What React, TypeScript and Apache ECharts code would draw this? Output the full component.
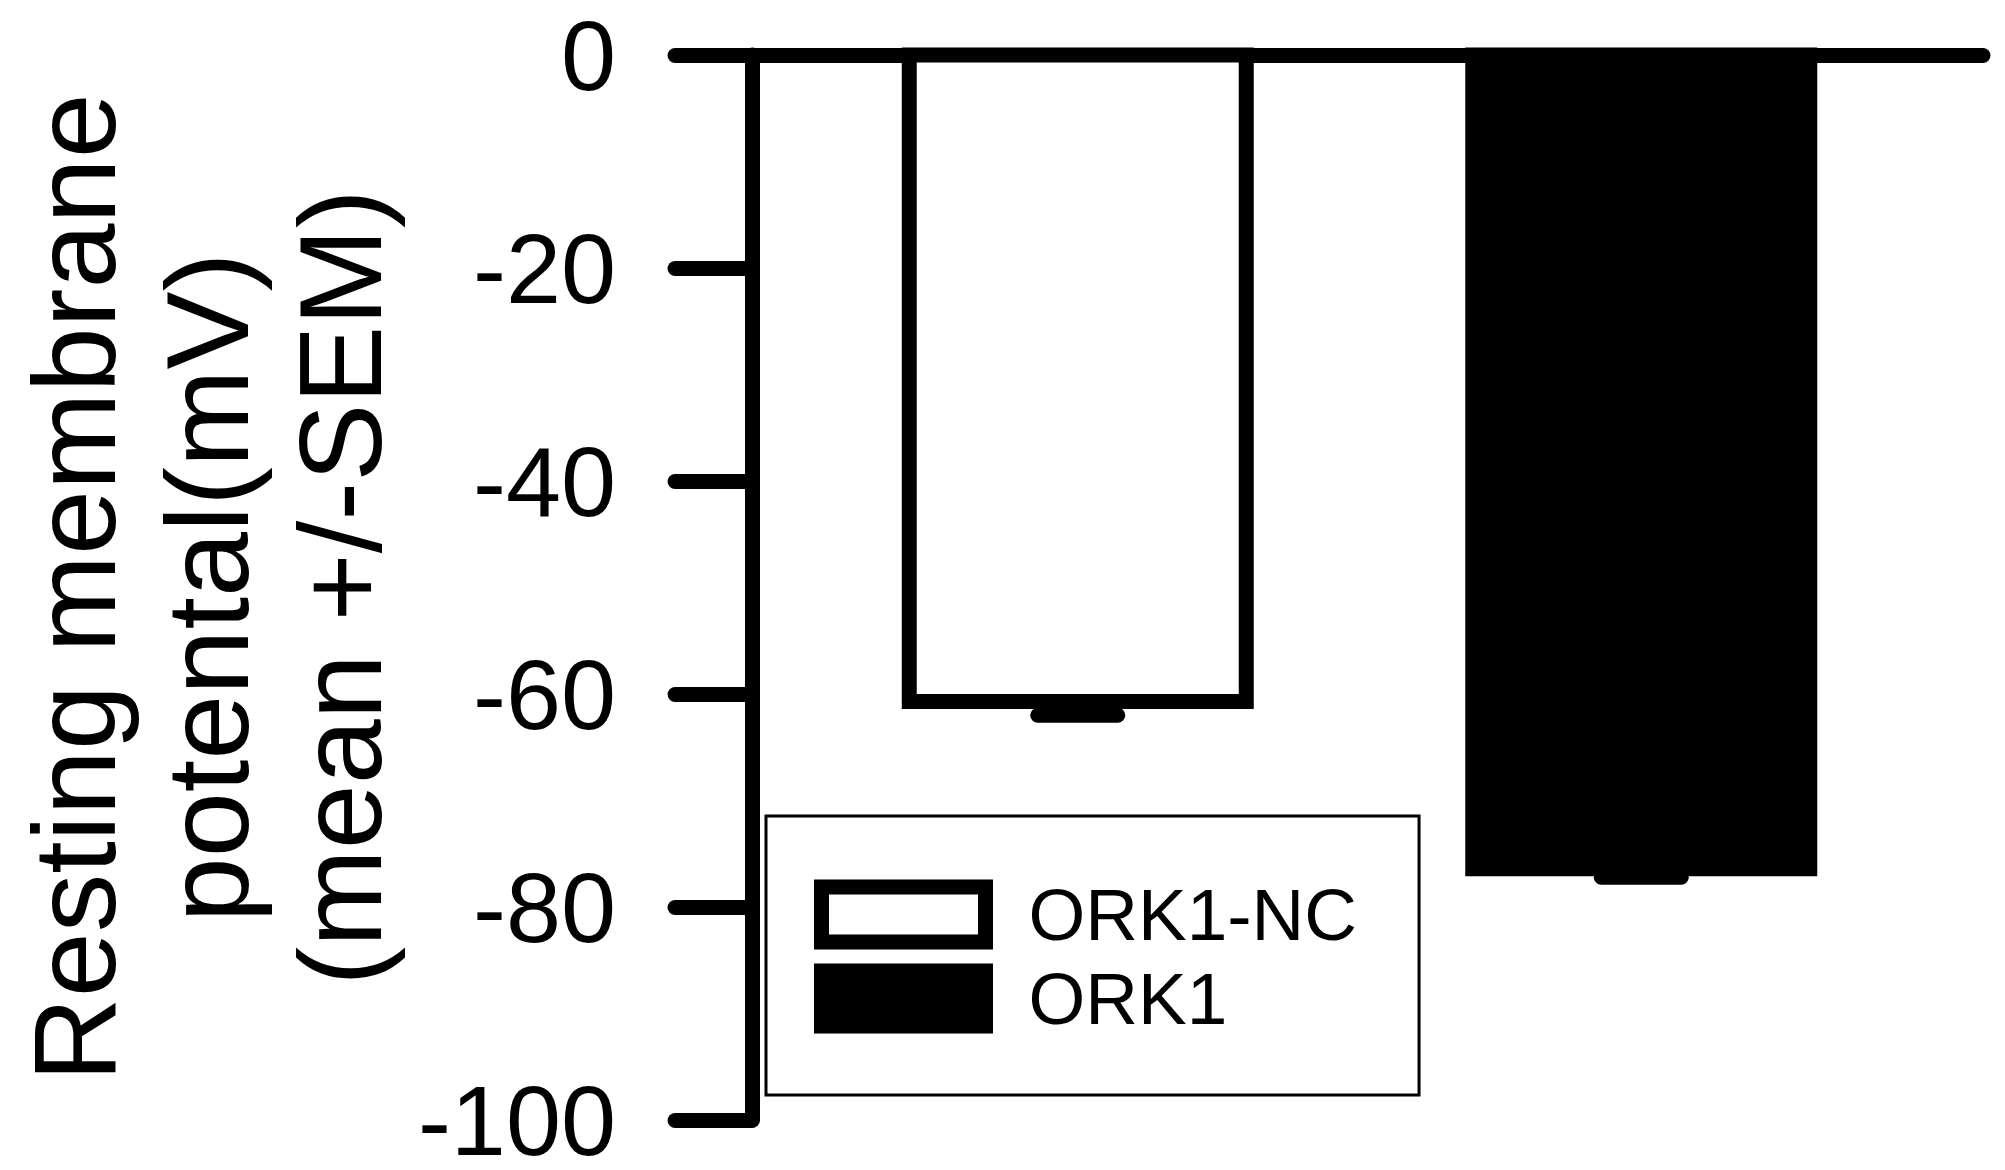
import React, { useEffect, useRef } from "react";
import * as echarts from "echarts";

const categories = ["ORK1-NC", "ORK1"];
const seriesNames = ["ORK1-NC", "ORK1"];
const meanValues = [-60.7, -76.4];
const semValues = [1.3, 0.8];
const barFills = ["#ffffff", "#000000"];
const yMin = -100;
const yMax = 0;
const yInterval = 20;
const axisTitle = "Resting membrane\npotental(mV)\n(mean +/-SEM)";

const FONT = "'Liberation Sans', Arial, sans-serif";
const BAR_INNER_WIDTH = 337;
const STROKE = 15;
const CAP_HALF = 40;

export default function App() {
  const ref = useRef<HTMLDivElement>(null);
  useEffect(() => {
    if (!ref.current) return;
    const chart = echarts.init(ref.current, null, { renderer: "svg" });

    const renderBar = (params: any, api: any) => {
      const i = api.value(0);
      const m = api.value(1);
      const s = api.value(2);
      const base = api.coord([i, 0]);
      const meanPt = api.coord([i, m]);
      const low = api.coord([i, m - s]);
      const fill = api.visual("color");
      return {
        type: "group",
        children: [
          {
            type: "line",
            z2: 1,
            shape: { x1: meanPt[0], y1: meanPt[1], x2: low[0], y2: low[1] },
            style: { stroke: "#000", lineWidth: STROKE },
          },
          {
            type: "line",
            z2: 1,
            shape: { x1: low[0] - CAP_HALF, y1: low[1], x2: low[0] + CAP_HALF, y2: low[1] },
            style: { stroke: "#000", lineWidth: STROKE, lineCap: "round" },
          },
          {
            type: "rect",
            z2: 2,
            shape: {
              x: base[0] - BAR_INNER_WIDTH / 2,
              y: base[1],
              width: BAR_INNER_WIDTH,
              height: meanPt[1] - base[1],
            },
            style: { fill, stroke: "#000", lineWidth: STROKE },
          },
        ],
      };
    };

    const option: any = {
      animation: false,
      backgroundColor: "#fff",
      grid: [
        { left: 796, top: 55, width: 1127, height: 1065 },
        { left: 741, top: 55, width: 1242, height: 1065 },
      ],
      xAxis: [
        { type: "category", gridIndex: 0, data: categories, show: false },
        {
          type: "value",
          gridIndex: 1,
          min: 0,
          max: 1,
          axisLine: { show: true, onZero: true, lineStyle: { color: "#000", width: STROKE, cap: "round" } },
          axisTick: { show: false },
          axisLabel: { show: false },
          splitLine: { show: false },
        },
      ],
      yAxis: [
        { type: "value", gridIndex: 0, min: yMin, max: yMax, show: false },
        {
          type: "value",
          gridIndex: 1,
          min: yMin,
          max: yMax,
          interval: yInterval,
          axisLine: { show: true, onZero: false, lineStyle: { color: "#000", width: STROKE, cap: "round" } },
          axisTick: { show: true, inside: false, length: 77, lineStyle: { color: "#000", width: STROKE, cap: "round" } },
          axisLabel: { fontSize: 99, lineHeight: 80, fontFamily: FONT, color: "#000", margin: 136 },
          splitLine: { show: false },
          name: axisTitle,
          nameLocation: "middle",
          nameRotate: 90,
          nameGap: 333,
          nameTextStyle: { fontSize: 117, lineHeight: 133, fontFamily: FONT, color: "#000", align: "center" },
        },
      ],
      legend: {
        left: 766,
        top: 816,
        orient: "vertical",
        padding: [62, 62, 60, 48],
        itemGap: 11,
        itemWidth: 164,
        itemHeight: 55,
        borderColor: "#000",
        borderWidth: 3,
        backgroundColor: "#fff",
        icon: "rect",
        itemStyle: { borderWidth: STROKE, borderColor: "#000" },
        textStyle: { fontSize: 73, fontFamily: FONT, color: "#000", padding: [0, 0, 0, 38] },
        data: seriesNames.map((n, k) => ({
          name: n,
          icon: "rect",
          itemStyle: { color: barFills[k], borderColor: "#000", borderWidth: STROKE, opacity: 1 },
        })),
      },
      series: seriesNames.map((n, k) => ({
        type: "custom",
        name: n,
        xAxisIndex: 0,
        yAxisIndex: 0,
        itemStyle: { color: barFills[k], borderColor: "#000", borderWidth: STROKE },
        data: [[k, meanValues[k], semValues[k]]],
        encode: { x: 0, y: 1 },
        renderItem: renderBar,
      })),
    };
    chart.setOption(option);
    return () => chart.dispose();
  }, []);
  return (
    <div
      ref={ref}
      style={{ position: "absolute", left: 0, top: 0, width: 2005, height: 1170 }}
    />
  );
}
